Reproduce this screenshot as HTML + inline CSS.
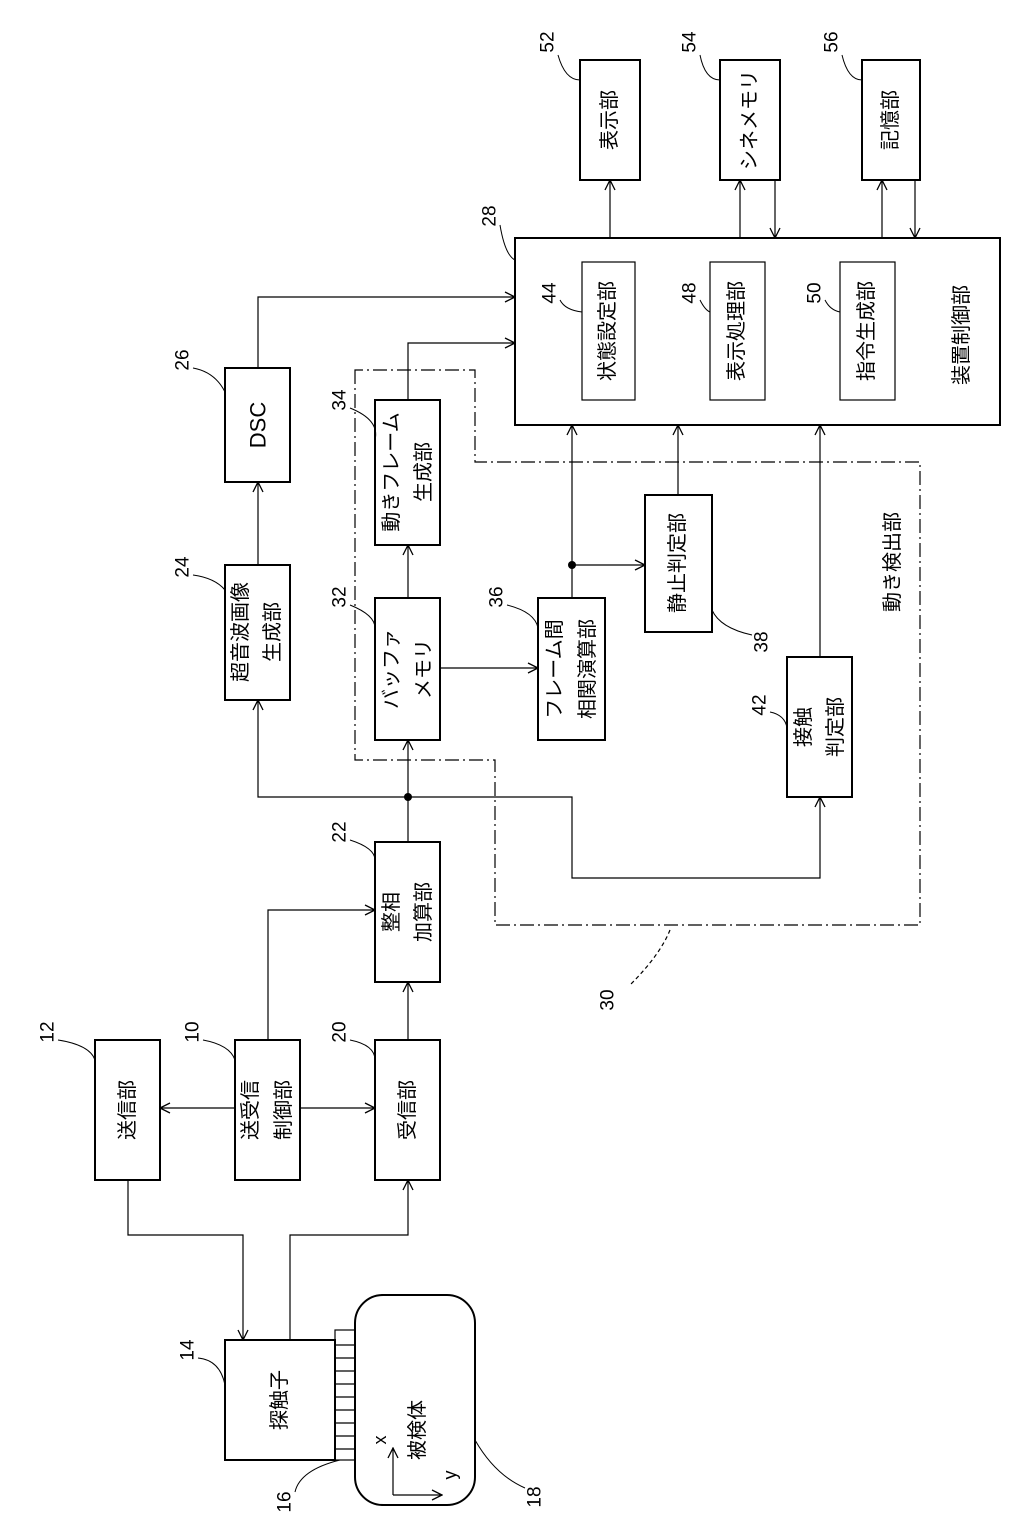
<!DOCTYPE html>
<html><head><meta charset="utf-8"><style>
html,body{margin:0;padding:0;background:#fff}
svg{display:block}
text{font-family:"Liberation Sans","Noto Sans CJK JP",sans-serif;fill:#000}
</style></head><body>
<svg width="1024" height="1528" viewBox="0 0 1024 1528" xmlns="http://www.w3.org/2000/svg">
<defs>
<marker id="a" viewBox="0 0 12 12" refX="11" refY="6" markerWidth="12" markerHeight="12" markerUnits="userSpaceOnUse" orient="auto">
<polyline points="1,1 11,6 1,11" fill="none" stroke="#000" stroke-width="1.3"/>
</marker>
</defs>
<g fill="none" stroke="#000" stroke-width="2">
<rect x="580" y="60" width="60" height="120"/>
<rect x="720" y="60" width="60" height="120"/>
<rect x="862" y="60" width="58" height="120"/>
<rect x="515" y="238" width="485" height="187"/>
<rect x="225" y="368" width="65" height="114"/>
<rect x="375" y="400" width="65" height="145"/>
<rect x="225" y="565" width="65" height="135"/>
<rect x="375" y="598" width="65" height="142"/>
<rect x="538" y="598" width="67" height="142"/>
<rect x="645" y="495" width="67" height="137"/>
<rect x="787" y="657" width="65" height="140"/>
<rect x="375" y="842" width="65" height="140"/>
<rect x="95" y="1040" width="65" height="140"/>
<rect x="235" y="1040" width="65" height="140"/>
<rect x="375" y="1040" width="65" height="140"/>
<rect x="225" y="1340" width="110" height="120"/>
<rect x="355" y="1295" width="120" height="210" rx="28"/>
</g>
<g fill="none" stroke="#000" stroke-width="1.2">
<rect x="582" y="262" width="53" height="138"/>
<rect x="710" y="262" width="55" height="138"/>
<rect x="840" y="262" width="55" height="138"/>
<rect x="335" y="1330" width="20" height="130"/>
<path d="M335 1345H355M335 1358H355M335 1371H355M335 1384H355M335 1397H355M335 1410H355M335 1423H355M335 1436H355M335 1449H355"/>
<path d="M355 370V760H495V925H920V462H475V370Z" stroke-dasharray="14,4,2,4"/>
<path d="M670 930Q660 955 630 985" stroke-dasharray="4,3"/>
</g>
<g fill="none" stroke="#000" stroke-width="1.2" marker-end="url(#a)">
<path d="M610 238V180"/>
<path d="M740 238V180"/><path d="M775 180V238"/>
<path d="M882 238V180"/><path d="M915 180V238"/>
<path d="M258 368V297H515"/>
<path d="M408 400V343H515"/>
<path d="M258 565V482"/>
<path d="M408 598V545"/>
<path d="M440 668H538"/>
<path d="M572 598V425"/>
<path d="M572 565H645"/>
<path d="M678 495V425"/>
<path d="M820 657V425"/>
<path d="M408 842V740"/>
<path d="M408 797H258V700"/>
<path d="M408 797H572V878H820V797"/>
<path d="M408 1040V982"/>
<path d="M268 1040V910H375"/>
<path d="M235 1108H160"/>
<path d="M300 1108H375"/>
<path d="M128 1180V1235H243V1340"/>
<path d="M290 1340V1235H408V1180"/>
<path d="M393 1495V1448"/>
<path d="M393 1495H442"/>
</g>
<circle cx="572" cy="565" r="4"/>
<circle cx="408" cy="797" r="4"/>
<g fill="none" stroke="#000" stroke-width="1">
<path d="M558 55Q565 80 580 80"/>
<path d="M700 55Q705 80 720 80"/>
<path d="M842 55Q848 80 862 80"/>
<path d="M500 225Q505 255 515 260"/>
<path d="M560 300Q565 310 582 312"/>
<path d="M700 300Q705 310 710 312"/>
<path d="M825 300Q830 310 840 312"/>
<path d="M193 368Q215 372 225 392"/>
<path d="M350 408Q380 420 375 440"/>
<path d="M193 575Q215 578 225 590"/>
<path d="M350 605Q375 615 375 628"/>
<path d="M507 605Q535 612 538 628"/>
<path d="M752 635Q720 628 712 610"/>
<path d="M770 712Q785 715 787 728"/>
<path d="M350 840Q375 848 375 860"/>
<path d="M58 1040Q90 1045 95 1060"/>
<path d="M203 1040Q230 1045 235 1060"/>
<path d="M350 1040Q375 1045 375 1060"/>
<path d="M198 1358Q220 1360 225 1385"/>
<path d="M295 1492Q300 1470 340 1460"/>
<path d="M525 1488Q495 1475 475 1440"/>
</g>
<g font-size="20" text-anchor="middle" dominant-baseline="central">
<text transform="translate(610,120) rotate(-90)">表示部</text>
<text transform="translate(750,120) rotate(-90)">シネメモリ</text>
<text transform="translate(891,120) rotate(-90)">記憶部</text>
<text transform="translate(608,331) rotate(-90)">状態設定部</text>
<text transform="translate(737,331) rotate(-90)">表示処理部</text>
<text transform="translate(867,331) rotate(-90)">指令生成部</text>
<text transform="translate(962,335) rotate(-90)">装置制御部</text>
<text transform="translate(258,425) rotate(-90)" font-size="22">DSC</text>
<text transform="translate(392,472) rotate(-90)">動きフレーム</text>
<text transform="translate(424,472) rotate(-90)">生成部</text>
<text transform="translate(241,632) rotate(-90)">超音波画像</text>
<text transform="translate(273,632) rotate(-90)">生成部</text>
<text transform="translate(392,669) rotate(-90)">バッファ</text>
<text transform="translate(424,669) rotate(-90)">メモリ</text>
<text transform="translate(555,669) rotate(-90)">フレーム間</text>
<text transform="translate(588,669) rotate(-90)">相関演算部</text>
<text transform="translate(678,563) rotate(-90)">静止判定部</text>
<text transform="translate(804,727) rotate(-90)">接触</text>
<text transform="translate(836,727) rotate(-90)">判定部</text>
<text transform="translate(893,562) rotate(-90)">動き検出部</text>
<text transform="translate(392,912) rotate(-90)">整相</text>
<text transform="translate(424,912) rotate(-90)">加算部</text>
<text transform="translate(128,1110) rotate(-90)">送信部</text>
<text transform="translate(251,1110) rotate(-90)">送受信</text>
<text transform="translate(284,1110) rotate(-90)">制御部</text>
<text transform="translate(408,1110) rotate(-90)">受信部</text>
<text transform="translate(280,1400) rotate(-90)">探触子</text>
<text transform="translate(418,1430) rotate(-90)">被検体</text>
<text transform="translate(380,1440) rotate(-90)" font-size="18">x</text>
<text transform="translate(450,1475) rotate(-90)" font-size="18">y</text>
</g>
<g font-size="19" text-anchor="middle" dominant-baseline="central">
<text transform="translate(548,42) rotate(-90)">52</text>
<text transform="translate(690,42) rotate(-90)">54</text>
<text transform="translate(832,42) rotate(-90)">56</text>
<text transform="translate(490,216) rotate(-90)">28</text>
<text transform="translate(550,293) rotate(-90)">44</text>
<text transform="translate(690,293) rotate(-90)">48</text>
<text transform="translate(815,293) rotate(-90)">50</text>
<text transform="translate(183,360) rotate(-90)">26</text>
<text transform="translate(340,400) rotate(-90)">34</text>
<text transform="translate(183,567) rotate(-90)">24</text>
<text transform="translate(340,597) rotate(-90)">32</text>
<text transform="translate(497,597) rotate(-90)">36</text>
<text transform="translate(762,642) rotate(-90)">38</text>
<text transform="translate(760,705) rotate(-90)">42</text>
<text transform="translate(340,832) rotate(-90)">22</text>
<text transform="translate(48,1032) rotate(-90)">12</text>
<text transform="translate(193,1032) rotate(-90)">10</text>
<text transform="translate(340,1032) rotate(-90)">20</text>
<text transform="translate(188,1350) rotate(-90)">14</text>
<text transform="translate(285,1502) rotate(-90)">16</text>
<text transform="translate(535,1497) rotate(-90)">18</text>
<text transform="translate(608,1000) rotate(-90)">30</text>
</g>
</svg>
</body></html>
